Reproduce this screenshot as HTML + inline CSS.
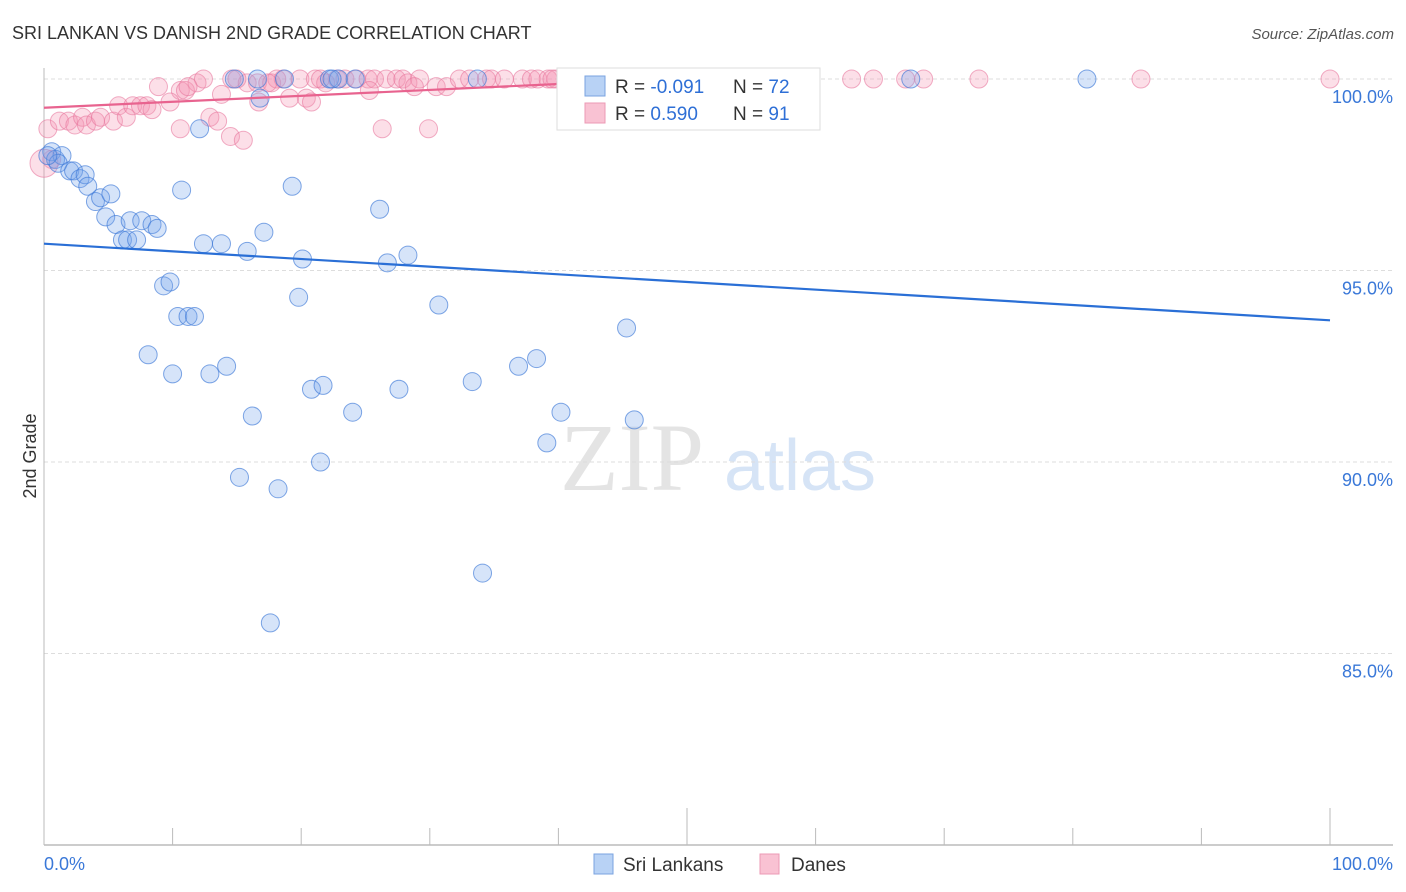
<!DOCTYPE html>
<html><head><meta charset="utf-8"><style>
body{margin:0;background:#fff;font-family:"Liberation Sans",sans-serif;}
#wrap{position:relative;width:1406px;height:892px;overflow:hidden;}
</style></head><body>
<div id="wrap">
<svg id="svg" width="1406" height="892" xmlns="http://www.w3.org/2000/svg">
<text x="12" y="39" font-size="18" fill="#333">SRI LANKAN VS DANISH 2ND GRADE CORRELATION CHART</text>
<text x="1394" y="39" font-size="15" fill="#555" font-style="italic" text-anchor="end">Source: ZipAtlas.com</text>
<text x="36" y="456" font-size="18" fill="#333" transform="rotate(-90 36 456)" text-anchor="middle">2nd Grade</text>
<text x="632" y="490" font-size="96" fill="#e4e4e4" text-anchor="middle" font-family="Liberation Serif,serif">ZIP</text>
<text x="800" y="490" font-size="72" fill="#d6e4f6" text-anchor="middle">atlas</text>
<g id="grid"></g>
<g id="axes"></g>
<g id="marks"></g>
<g>
<rect x="557" y="68" width="263" height="62" fill="#fff" stroke="#ddd"/>
<rect x="585" y="76" width="20" height="20" fill="#b8d2f5" stroke="#7aa3e0"/>
<rect x="585" y="103" width="20" height="20" fill="#f9c2d3" stroke="#ec9ab4"/>
<text x="615" y="93" font-size="19" fill="#333">R = <tspan fill="#2e6fd6">-0.091</tspan></text>
<text x="733" y="93" font-size="19" fill="#333">N = <tspan fill="#2e6fd6">72</tspan></text>
<text x="615" y="120" font-size="19" fill="#333">R = <tspan fill="#2e6fd6"> 0.590</tspan></text>
<text x="733" y="120" font-size="19" fill="#333">N = <tspan fill="#2e6fd6">91</tspan></text>
</g>
<g>
<rect x="594" y="854" width="19" height="20" fill="#b8d2f5" stroke="#7aa3e0"/>
<text x="623" y="871" font-size="19" fill="#333">Sri Lankans</text>
<rect x="760" y="854" width="19" height="20" fill="#f9c2d3" stroke="#ec9ab4"/>
<text x="791" y="871" font-size="19" fill="#333">Danes</text>
</g>
</svg>
</div>
<script>
const yTicks=[100,95,90,85];
const yTickLabels=["100.0%","95.0%","90.0%","85.0%"];
const xTicks=[0,10,20,30,40,50,60,70,80,90,100];
const blueX=[0.6,0.9,1.4,1.1,2.0,2.3,2.8,3.2,3.4,4.0,4.4,4.8,5.2,5.6,6.1,6.7,6.5,7.2,7.6,8.4,8.8,9.3,9.8,8.1,10.0,10.4,11.2,11.7,10.7,12.1,12.4,12.9,13.8,14.2,14.8,15.2,15.8,16.2,16.8,17.1,17.6,18.2,18.7,19.3,19.8,20.1,20.8,21.5,21.7,22.2,22.9,24.0,24.2,26.1,26.7,27.6,28.3,30.7,33.3,33.7,34.1,36.9,38.3,39.1,40.2,45.3,45.9,67.4,81.1,22.4,16.6,0.3];
const blueY=[98.1,97.9,98.0,97.8,97.6,97.6,97.4,97.5,97.2,96.8,96.9,96.4,97.0,96.2,95.8,96.3,95.8,95.8,96.3,96.2,96.1,94.6,94.7,92.8,92.3,93.8,93.8,93.8,97.1,98.7,95.7,92.3,95.7,92.5,100,89.6,95.5,91.2,99.5,96.0,85.8,89.3,100,97.2,94.3,95.3,91.9,90.0,92.0,100,100,91.3,100,96.6,95.2,91.9,95.4,94.1,92.1,100,87.1,92.5,92.7,90.5,91.3,93.5,91.1,100,100,100,100,98.0];
const pinkX=[8.9,10.6,11.0,11.9,12.4,14.6,15.8,16.6,17.7,18.1,18.6,19.9,21.1,21.9,22.8,23.4,24.3,25.2,25.7,26.6,27.4,27.9,28.3,29.2,30.5,31.3,32.3,33.1,34.4,34.8,35.8,37.2,37.9,38.4,39.2,39.8,41.5,43.2,44.9,47.6,49.0,49.9,53.0,54.0,58.8,62.8,64.5,67.0,68.4,72.7,85.3,100,
0.3,0.6,1.2,1.9,2.4,3.0,3.3,4.0,4.4,5.4,5.8,6.4,6.9,7.5,8.0,8.4,9.8,10.6,11.2,12.9,13.5,13.8,14.5,15.5,16.7,17.4,19.1,20.4,20.8,25.3,26.3,28.8,29.9,0.0,15.0,21.5,39.5];
const pinkY=[99.8,99.7,99.7,99.9,100,100,99.9,99.9,99.9,100,100,100,100,99.9,100,100,100,100,100,100,100,100,99.9,100,99.8,99.8,100,100,100,100,100,100,100,100,100,100,100,100,100,100,100,100,100,100,100,100,100,100,100,100,100,100,
98.7,97.9,98.9,98.9,98.8,99.0,98.8,98.9,99.0,98.9,99.3,99.0,99.3,99.3,99.3,99.2,99.4,98.7,99.8,99.0,98.9,99.6,98.5,98.4,99.4,99.9,99.5,99.5,99.4,99.7,98.7,99.8,98.7,97.8,100,100,100];
const blueTrend=[95.7,93.7];
const pinkTrend=[99.25,99.87];
const pinkTrendEnd=40;
const NS="http://www.w3.org/2000/svg";
const X0=44,X1=1330,YT=79,PX_PER=38.3;
function sx(v){return X0+(X1-X0)*v/100;}
function sy(v){return YT+(100-v)*PX_PER;}
function mk(tag,attrs,parent){const e=document.createElementNS(NS,tag);for(const k in attrs)e.setAttribute(k,attrs[k]);parent.appendChild(e);return e;}
const grid=document.getElementById('grid'),axes=document.getElementById('axes'),marks=document.getElementById('marks');
yTicks.forEach((t,i)=>{
  const l=mk('line',{x1:X0,x2:1393,y1:sy(t),y2:sy(t),stroke:'#ddd','stroke-dasharray':'4,3'},grid);
  
  
  const tx=mk('text',{x:1393,y:sy(t)+24,'font-size':18,fill:'#3a78d8','text-anchor':'end'},grid);
  tx.textContent=yTickLabels[i];
  
  
});
const ya=mk('line',{x1:X0,x2:X0,y1:68,y2:845,stroke:'#bbb'},axes);


const xa=mk('line',{x1:X0,x2:1393,y1:845,y2:845,stroke:'#bbb','stroke-width':1.5},axes);


xTicks.forEach(t=>{
  const major=(t%50===0)&&t>0;
  const tk=mk('line',{x1:sx(t),x2:sx(t),y1:major?808:828,y2:845,stroke:'#bbb'},axes);
  
  
});
const xl0=mk('text',{x:X0,y:870,'font-size':18,fill:'#3a78d8'},axes);xl0.textContent='0.0%';


const xl1=mk('text',{x:1393,y:870,'font-size':18,fill:'#3a78d8','text-anchor':'end'},axes);xl1.textContent='100.0%';


pinkX.forEach((x,i)=>{
  const c=mk('circle',{cx:sx(x),cy:sy(pinkY[i]),r:(x===0?14:9),fill:'rgba(245,150,180,0.3)',stroke:'rgba(232,120,158,0.6)'},marks);
  
  
});
blueX.forEach((x,i)=>{
  const c=mk('circle',{cx:sx(x),cy:sy(blueY[i]),r:9,fill:'rgba(120,165,235,0.3)',stroke:'rgba(60,120,215,0.65)'},marks);
  
  
});
const bl=mk('line',{x1:sx(0),y1:sy(blueTrend[0]),x2:sx(100),y2:sy(blueTrend[1]),stroke:'#2a6fd6','stroke-width':2.2},marks);


const pl=mk('line',{x1:sx(0),y1:sy(pinkTrend[0]),x2:sx(pinkTrendEnd),y2:sy(pinkTrend[1]),stroke:'#e8638f','stroke-width':2.2},marks);


</script>
</body></html>
